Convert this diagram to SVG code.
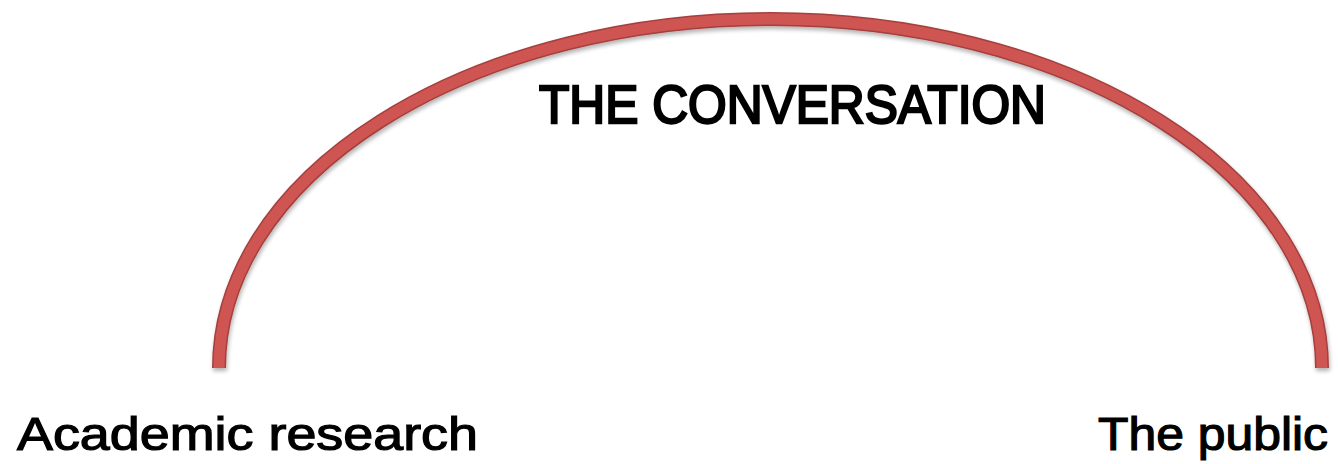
<svg xmlns="http://www.w3.org/2000/svg" width="1338" height="464" viewBox="0 0 1338 464">
<style>
.lbl{font-family:"Liberation Sans",Arial,sans-serif;font-weight:normal;fill:#000;stroke:#000;stroke-width:1.2}
.title{font-family:"Liberation Sans",Arial,sans-serif;font-weight:normal;fill:#000;stroke:#000;stroke-width:2.4}
</style>
<defs>
<filter id="sh" x="-5%" y="-5%" width="110%" height="115%">
<feGaussianBlur in="SourceAlpha" stdDeviation="2"/>
<feOffset dx="1" dy="3" result="b"/>
<feComponentTransfer><feFuncA type="linear" slope="0.3"/></feComponentTransfer>
<feMerge><feMergeNode/><feMergeNode in="SourceGraphic"/></feMerge>
</filter>
</defs>
<rect width="1338" height="464" fill="#fff"/>
<g id="connectors" filter="url(#sh)">
<path d="M219,368 A551.5,349 0 0 1 1322,368" fill="none" stroke="#a53f3d" stroke-width="14"/>
<path d="M219,368 A551.5,349 0 0 1 1322,368" fill="none" stroke="#cf5553" stroke-width="11"/>
</g>
<g id="title"><text class="title" x="539" y="123" font-size="53" textLength="507" lengthAdjust="spacingAndGlyphs">THE CONVERSATION</text></g>
<g id="academic"><text class="lbl" x="17" y="450" font-size="46" textLength="461" lengthAdjust="spacingAndGlyphs">Academic research</text></g>
<g id="public"><text class="lbl" x="1098" y="450" font-size="46" textLength="230" lengthAdjust="spacingAndGlyphs">The public</text></g>
</svg>
